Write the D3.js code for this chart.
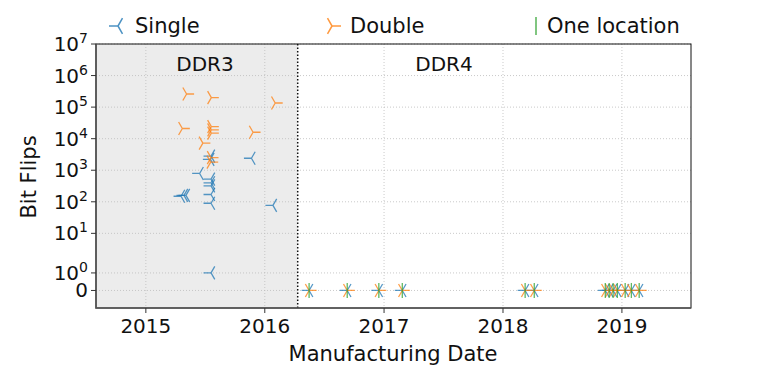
<!DOCTYPE html>
<html lang="en">
<head>
    <meta charset="UTF-8" />
    <title>Bit Flips vs Manufacturing Date</title>
    <script src="https://d3js.org/d3.v7.min.js"></script>
    <style>
        body { margin: 0; background: white; }
        text { font-family: "DejaVu Sans", sans-serif; fill: #111; }
    </style>
</head>
<body>
    <script>
        // series data: manufacturing date and bit flips
        const singleDates = ["2015-04-19", "2015-04-28", "2015-05-04", "2015-06-15", "2015-07-20", "2015-07-18",
            "2015-07-20", "2015-07-20", "2015-07-20", "2015-07-20", "2015-07-20", "2015-07-20", "2015-11-21", "2016-01-26"];
        const singleValues = [150, 160, 160, 790, 2800, 2200, 520, 400, 320, 170, 90, 1, 2400, 77];

        const doubleDates = ["2015-05-06", "2015-07-21", "2016-02-02", "2015-04-23", "2015-07-21", "2015-07-21",
            "2015-07-21", "2015-11-26", "2015-06-25", "2015-07-20", "2015-07-19"];
        const doubleValues = [260000, 200000, 135000, 21000, 24000, 19000, 15000, 16000, 7200, 2500, 1800];

        // DDR4 modules: no flips in any series
        const ddr4Dates = ["2016-05-16", "2016-09-10", "2016-12-16", "2017-02-26", "2018-03-10", "2018-04-07",
            "2018-11-11", "2018-11-23", "2018-12-05", "2018-12-18", "2019-01-11", "2019-01-30", "2019-02-23"];
        const ddr4Values = ddr4Dates.map(() => 0);

        const yTicks = [0, 1, 10, 100, 1000, 10000, 100000, 1000000, 10000000];
        const xTicks = ["2015-01-01", "2016-01-01", "2017-01-01", "2018-01-01", "2019-01-01"];
        const xDomain = ["2014-08-01", "2019-08-01"];
        const ddrSplit = "2016-04-11";
        const legendNames = ["Single", "Double", "One location"];

        const width = 768, height = 377;
        const mLeft = 96, mRight = 691, mTop = 44, mBottom = 308;
        const parse = d3.timeParse("%Y-%m-%d");

        // matplotlib style symlog, linthresh 2, linscale 1
        const linthresh = 2, linscaleAdj = 1 / (1 - 1 / 10);
        function symlog(v) {
            const a = Math.abs(v);
            if (a <= linthresh) return v * linscaleAdj;
            return Math.sign(v) * linthresh * (linscaleAdj + Math.log10(a / linthresh));
        }

        const x = d3.scaleTime().domain(xDomain.map(parse)).range([mLeft, mRight]);
        const yLin = d3.scaleLinear().domain([symlog(-1), symlog(1e7)]).range([mBottom, mTop]);
        const y = v => yLin(symlog(v));

        const svg = d3.select("body").append("svg")
            .attr("width", width).attr("height", height);

        // DDR3 shaded area
        svg.append("rect")
            .attr("x", mLeft).attr("y", mTop)
            .attr("width", x(parse(ddrSplit)) - mLeft).attr("height", mBottom - mTop)
            .attr("fill", "#ececec");

        // grid
        const grid = svg.append("g").attr("stroke", "#bdbdbd").attr("stroke-width", 0.8).attr("stroke-dasharray", "1,2");
        xTicks.forEach(t => {
            grid.append("line").attr("x1", x(parse(t))).attr("x2", x(parse(t)))
                .attr("y1", mTop).attr("y2", mBottom);
        });
        yTicks.forEach(t => {
            grid.append("line").attr("x1", mLeft).attr("x2", mRight)
                .attr("y1", y(t)).attr("y2", y(t));
        });

        // DDR3 / DDR4 divider
        svg.append("line")
            .attr("x1", x(parse(ddrSplit))).attr("x2", x(parse(ddrSplit)))
            .attr("y1", mTop).attr("y2", mBottom)
            .attr("stroke", "#111").attr("stroke-width", 1.5).attr("stroke-dasharray", "1.5,2");

        svg.append("text").attr("x", 205).attr("y", 71).attr("text-anchor", "middle")
            .style("font-size", "20px").text("DDR3");
        svg.append("text").attr("x", 444).attr("y", 71).attr("text-anchor", "middle")
            .style("font-size", "20px").text("DDR4");

        // marker shapes
        function triLeft(r) {
            const c = r * 0.5, s = r * 0.866;
            return `M0,0L${-r},0M0,0L${c},${-s}M0,0L${c},${s}`;
        }
        function triRight(r) {
            const c = r * 0.5, s = r * 0.866;
            return `M0,0L${r},0M0,0L${-c},${-s}M0,0L${-c},${s}`;
        }
        function vline(r) {
            return `M0,${-r}L0,${r}`;
        }

        const series = [
            { dates: singleDates.concat(ddr4Dates), values: singleValues.concat(ddr4Values), color: "#1f77b4", shape: triLeft },
            { dates: doubleDates.concat(ddr4Dates), values: doubleValues.concat(ddr4Values), color: "#ff7f0e", shape: triRight },
            { dates: ddr4Dates, values: ddr4Values, color: "#2ca02c", shape: vline }
        ];

        series.forEach(s => {
            svg.append("g").selectAll("path")
                .data(s.dates.map((d, i) => ({ date: parse(d), value: s.values[i] })))
                .enter().append("path")
                .attr("transform", d => `translate(${x(d.date)},${y(d.value)})`)
                .attr("d", s.shape(7.5))
                .attr("fill", "none")
                .attr("stroke", s.color)
                .attr("stroke-width", 1.3)
                .attr("opacity", 0.75);
        });

        // spines
        svg.append("rect").attr("x", mLeft).attr("y", mTop)
            .attr("width", mRight - mLeft).attr("height", mBottom - mTop)
            .attr("fill", "none").attr("stroke", "#111").attr("stroke-width", 1);
        svg.append("path")
            .attr("d", `M${mLeft},${mTop}L${mLeft},${mBottom}L${mRight},${mBottom}`)
            .attr("fill", "none").attr("stroke", "#555").attr("stroke-width", 1.6);

        // x axis
        const xAxis = svg.append("g");
        xTicks.forEach(t => {
            const px = x(parse(t));
            xAxis.append("line").attr("x1", px).attr("x2", px).attr("y1", mBottom).attr("y2", mBottom + 5)
                .attr("stroke", "#333");
            xAxis.append("text").attr("x", px).attr("y", mBottom + 25).attr("text-anchor", "middle")
                .style("font-size", "20px").text(d3.timeFormat("%Y")(parse(t)));
        });

        // y axis
        const yAxis = svg.append("g");
        yTicks.forEach(t => {
            const py = y(t);
            yAxis.append("line").attr("x1", mLeft - 5).attr("x2", mLeft).attr("y1", py).attr("y2", py)
                .attr("stroke", "#333");
            const label = yAxis.append("text").attr("x", mLeft - 8).attr("y", py + 7)
                .attr("text-anchor", "end").style("font-size", "20px");
            if (t === 0) {
                label.text("0");
            } else {
                label.append("tspan").text("10");
                label.append("tspan").attr("dy", -8).style("font-size", "14px").text(Math.round(Math.log10(t)));
            }
        });

        svg.append("text").attr("x", 393).attr("y", 361).attr("text-anchor", "middle")
            .style("font-size", "21px").text("Manufacturing Date");
        svg.append("text").attr("transform", "translate(36,177) rotate(-90)").attr("text-anchor", "middle")
            .style("font-size", "21px").text("Bit Flips");

        // legend
        const legendItems = [
            { x: 118, tx: 135, color: "#1f77b4", shape: triLeft },
            { x: 332, tx: 350, color: "#ff7f0e", shape: triRight },
            { x: 536, tx: 547, color: "#2ca02c", shape: vline }
        ];
        legendItems.forEach((d, i) => {
            svg.append("path").attr("transform", `translate(${d.x},26)`)
                .attr("d", d.shape(9)).attr("fill", "none")
                .attr("stroke", d.color).attr("stroke-width", 1.5).attr("opacity", 0.8);
            svg.append("text").attr("x", d.tx).attr("y", 33)
                .style("font-size", "21px").text(legendNames[i]);
        });
    </script>
</body>
</html>
